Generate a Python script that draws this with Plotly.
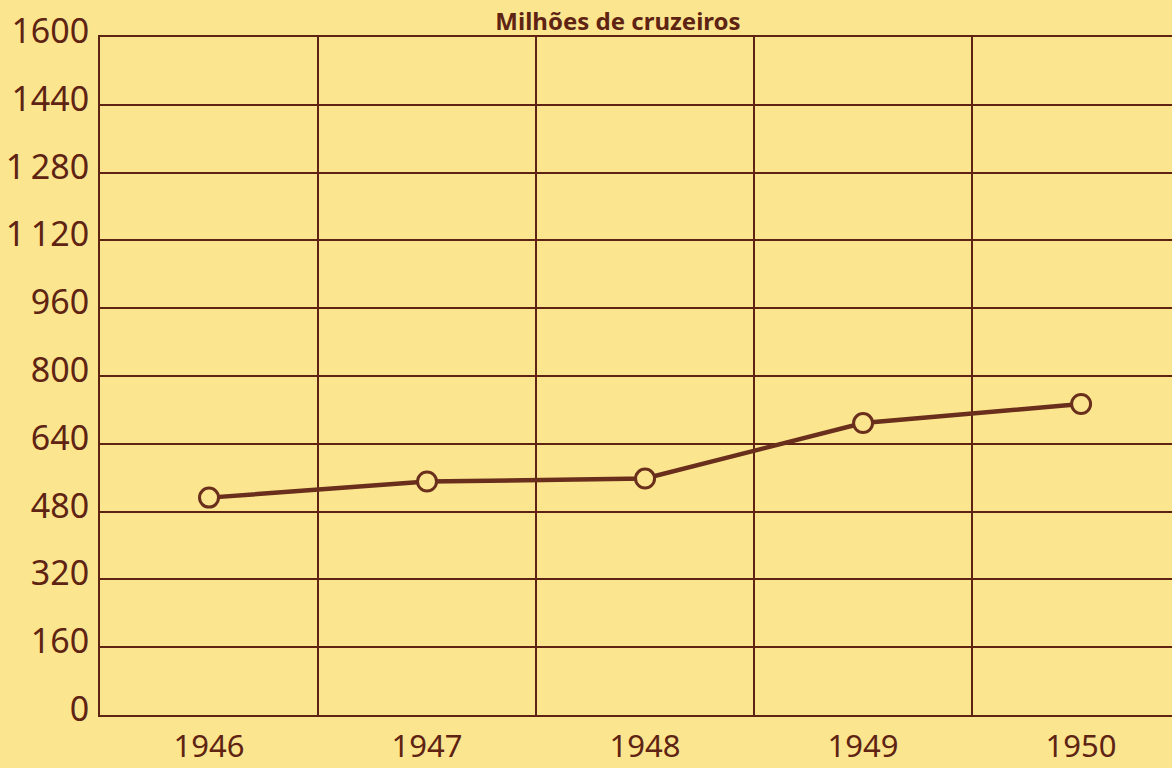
import plotly.graph_objects as go

years = ["1946", "1947", "1948", "1949", "1950"]
values = [513, 551, 558, 689, 734]
y_ticks = [0, 160, 320, 480, 640, 800, 960, 1120, 1280, 1440, 1600]
y_tick_text = ["0", "160", "320", "480", "640", "800", "960", "1\u2009120", "1\u2009280", "1440", "1600"]
title_text = "Milhões de cruzeiros"

bg = "#FBE68F"
ink = "#5E2312"
line_col = "#6A2E1C"

x_idx = list(range(len(years)))

fig = go.Figure()
fig.add_trace(go.Scatter(
    x=x_idx, y=values, mode="lines+markers",
    line=dict(color=line_col, width=4.5),
    marker=dict(symbol="circle", size=19, color=bg,
                line=dict(color=line_col, width=3)),
    hoverinfo="x+y",
))

font_family = "Noto Sans, DejaVu Sans, sans-serif"

fig.update_layout(
    width=1172, height=768,
    paper_bgcolor=bg, plot_bgcolor=bg,
    margin=dict(l=100, r=0, t=37, b=53, autoexpand=False),
    showlegend=False,
    title=dict(text=title_text, x=618 / 1172, xanchor="center",
               y=1 - 22 / 768, yanchor="middle",
               font=dict(family=font_family, size=24, color=ink, weight="bold")),
    xaxis=dict(
        range=[-0.5, 4.417],
        tickmode="array", tickvals=x_idx, ticktext=years,
        showgrid=False, zeroline=False,
        showline=True, linecolor=ink, linewidth=2, mirror=True,
        ticks="", ticklabelstandoff=3, automargin=False,
        tickfont=dict(family=font_family, size=31, color=ink),
        minor=dict(tickmode="array", tickvals=[-0.5, 0.5, 1.5, 2.5, 3.5, 4.5],
                   showgrid=True, gridcolor=ink, gridwidth=2, ticks=""),
        fixedrange=True,
    ),
    yaxis=dict(
        range=[0, 1600],
        tickmode="array", tickvals=y_ticks, ticktext=y_tick_text,
        showgrid=True, gridcolor=ink, gridwidth=2,
        zeroline=False, automargin=False,
        showline=True, linecolor=ink, linewidth=2,
        ticks="", ticklabelstandoff=2, ticklabelshift=-6,
        tickfont=dict(family=font_family, size=34, color=ink),
        fixedrange=True,
    ),
)

fig.write_html(
    "out.html",
    config={"displayModeBar": False},
    post_script="document.body.style.margin='0';document.body.style.overflow='hidden';"
                "document.documentElement.style.overflow='hidden';",
)
